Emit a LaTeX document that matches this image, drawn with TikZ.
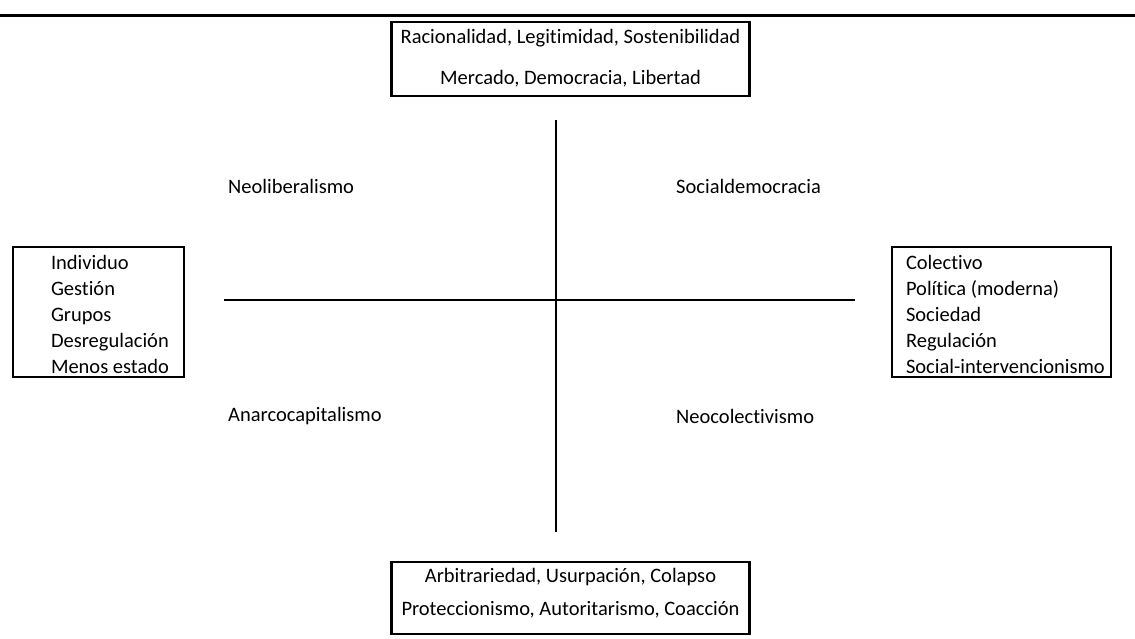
\documentclass[tikz,border=0pt]{standalone}
\usepackage{fontspec}
\setmainfont{Carlito}[Ligatures=NoCommon]
\usetikzlibrary{positioning}

\tikzset{
  box/.style={draw, rectangle, line width=2.4pt, inner sep=0pt},
  words/.style={inner sep=0pt, font=\fontsize{20.5}{25.5}\selectfont},
  list/.style={words, align=left, font=\fontsize{20.5}{26}\selectfont},
  axis/.style={line width=2.4pt}
}

\begin{document}
\begin{tikzpicture}[x=1pt, y=-1pt]
    \useasboundingbox (0,0) rectangle (1135,639);

    % rule on top
    \coordinate (ruleL) at (0,15.5);
    \coordinate (ruleR) at (1135,15.5);
    \draw[line width=3.5pt] (ruleL) -- (ruleR);

    % top and bottom boxes
    \node[box, minimum width=358pt, minimum height=74pt] (topbox) at (570.5,59) {};
    \node[words, align=center, below=8pt of topbox.north] (toptext) {Racionalidad, Legitimidad, Sostenibilidad\\[15.5pt]Mercado, Democracia, Libertad};

    \node[box, minimum width=358pt, minimum height=72pt] (botbox) at (570.5,598) {};
    \node[words, align=center, below=7pt of botbox.north] (bottext) {Arbitrariedad, Usurpación, Colapso\\[8pt]Proteccionismo, Autoritarismo, Coacción};

    % side boxes
    \node[box, minimum width=171pt, minimum height=130pt] (leftbox) at (98.5,312) {};
    \node[list, right=39pt of leftbox.west, yshift=-2pt] (lefttext) {Individuo\\Gestión\\Grupos\\Desregulación\\Menos estado};

    \node[box, minimum width=219pt, minimum height=130pt] (rightbox) at (1001.5,312) {};
    \node[list, right=15pt of rightbox.west, yshift=-2pt] (righttext) {Colectivo\\Política (moderna)\\Sociedad\\Regulación\\Social-intervencionismo};

    % axes
    \coordinate (axisN) at (556,120);
    \coordinate (axisS) at (556,532);
    \coordinate (axisW) at (224,300);
    \coordinate (axisE) at (855,300);
    \draw[axis] (axisN) -- (axisS);
    \draw[axis] (axisW) -- (axisE);

    % quadrants
    \node[words, anchor=west] (neolib) at (228,186) {Neoliberalismo};
    \node[words, anchor=west] (socdem) at (676,186) {Socialdemocracia};
    \node[words, anchor=west] (anarco) at (228,416) {Anarcocapitalismo};
    \node[words, anchor=west] (neocol) at (676,416) {Neocolectivismo};
\end{tikzpicture}
\end{document}
